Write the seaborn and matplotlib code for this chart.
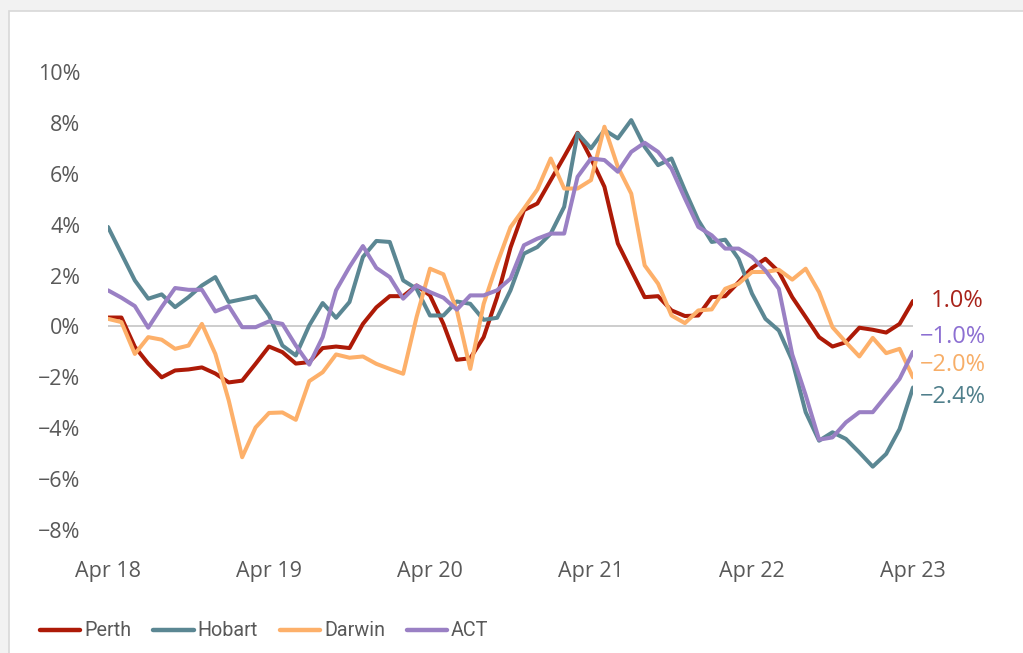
import pandas as pd
import matplotlib
matplotlib.use("Agg")
import matplotlib.pyplot as plt
import seaborn as sns
from matplotlib.patches import Rectangle

# monthly data, Apr 18 .. Apr 23 (annual change, %)
months = pd.date_range("2018-04-01", "2023-04-01", freq="MS")

perth = [0.35, 0.35, -0.8, -1.46, -2.0, -1.73, -1.69, -1.61, -1.85, -2.2, -2.13,
         -1.47, -0.79, -1.01, -1.46, -1.4, -0.85, -0.79, -0.85, 0.1, 0.75,
         1.19, 1.19, 1.61, 1.22, 0.1, -1.31, -1.25, -0.42, 1.15, 3.1,
         4.57, 4.83, 5.75, 6.67, 7.61, 6.6, 5.49, 3.26, 2.2, 1.15,
         1.19, 0.63, 0.41, 0.43, 1.15, 1.19, 1.74, 2.3, 2.66, 2.15,
         1.15, 0.37, -0.42, -0.79, -0.62, -0.05, -0.13, -0.24, 0.1, 1.0]
hobart = [3.91, 2.86, 1.81, 1.09, 1.26, 0.76, 1.15, 1.61, 1.94, 0.96, 1.07,
          1.18, 0.43, -0.75, -1.14, 0.04, 0.92, 0.34, 0.96, 2.73, 3.36,
          3.32, 1.81, 1.48, 0.43, 0.43, 0.98, 0.89, 0.26, 0.34, 1.42,
          2.86, 3.12, 3.65, 4.7, 7.59, 7.0, 7.72, 7.39, 8.11, 7.06,
          6.34, 6.6, 5.35, 4.17, 3.32, 3.41, 2.66, 1.29, 0.3, -0.16,
          -1.34, -3.37, -4.49, -4.16, -4.42, -4.95, -5.51, -5.01, -4.03, -2.4]
darwin = [0.3, 0.17, -1.08, -0.42, -0.52, -0.88, -0.75, 0.1, -1.08, -2.91, -5.14,
          -3.97, -3.4, -3.38, -3.67, -2.15, -1.8, -1.1, -1.23, -1.18, -1.47,
          -1.67, -1.86, 0.37, 2.27, 2.05, 0.63, -1.67, 0.89, 2.47, 3.9,
          4.63, 5.38, 6.6, 5.42, 5.42, 5.75, 7.85, 6.27, 5.22, 2.4,
          1.68, 0.43, 0.13, 0.63, 0.67, 1.48, 1.68, 2.14, 2.14, 2.23,
          1.84, 2.27, 1.35, -0.03, -0.62, -1.18, -0.45, -1.05, -0.88, -2.0]
act = [1.42, 1.13, 0.8, -0.05, 0.76, 1.51, 1.44, 1.44, 0.59, 0.8, -0.03,
       -0.03, 0.2, 0.1, -0.75, -1.5, -0.42, 1.42, 2.34, 3.16, 2.3,
       1.94, 1.09, 1.61, 1.35, 1.13, 0.66, 1.22, 1.22, 1.42, 1.88,
       3.19, 3.45, 3.65, 3.65, 5.88, 6.6, 6.54, 6.08, 6.86, 7.22,
       6.86, 6.2, 5.03, 3.91, 3.58, 3.06, 3.06, 2.73, 2.2, 1.48,
       -1.1, -2.7, -4.45, -4.36, -3.77, -3.37, -3.37, -2.72, -2.06, -1.0]

cities = ["Perth", "Hobart", "Darwin", "ACT"]
colors = ["#ad1a07", "#5b8793", "#fdb06a", "#9a80c4"]
label_colors = ["#a8231a", "#4f7f8b", "#f7ae68", "#8c6fd2"]
ticks_y = list(range(-8, 11, 2))
tick_labels_x = ["Apr 18", "Apr 19", "Apr 20", "Apr 21", "Apr 22", "Apr 23"]

df = pd.DataFrame({"t": list(range(len(months))) * 4,
                   "value": perth + hobart + darwin + act,
                   "city": [c for c in cities for _ in months]})

sns.set_style("white")
plt.rcParams["font.family"] = ["Open Sans", "DejaVu Sans"]

fig = plt.figure(figsize=(10.23, 6.53), dpi=100, facecolor="#f2f2f2")
# white card behind the chart
fig.patches.append(Rectangle((9 / 1023, -0.01), 1.0, 1 - 11 / 653 + 0.01,
                             transform=fig.transFigure, facecolor="white",
                             edgecolor="#d8d8d8", linewidth=1.2, zorder=-10))
ax = fig.add_axes([108 / 1023, 1 - 530 / 653, 805 / 1023, 458 / 653])
ax.set_facecolor("none")

ax.axhline(0, color="#c0c0c0", lw=1.1, zorder=1)
sns.lineplot(data=df, x="t", y="value", hue="city", hue_order=cities,
             palette=colors, linewidth=2.9, ax=ax, zorder=3)

ax.set_xlim(0, len(months) - 1)
ax.set_ylim(-8, 10)
ax.set_yticks(ticks_y)
ax.set_yticklabels([f"{v}%".replace("-", "−") for v in ticks_y])
ax.set_xticks(range(0, len(months), 12))
ax.set_xticklabels(tick_labels_x)
ax.tick_params(axis="y", length=0, pad=20, labelsize=15.5, labelcolor="#595959")
ax.tick_params(axis="x", length=0, pad=22, labelsize=15.5, labelcolor="#595959")
ax.set_xlabel("")
ax.set_ylabel("")
sns.despine(ax=ax, left=True, bottom=True)

# end-of-line labels, nudged apart
series = [perth, act, darwin, hobart]
lab_cols = [label_colors[0], label_colors[3], label_colors[2], label_colors[1]]
shifts = [0, 15, 12, -9]
xoffs = [18, 7, 7, 7]
for s, c, dy, dx in zip(series, lab_cols, shifts, xoffs):
    txt = f"{s[-1]:.1f}%".replace("-", "−")
    ax.annotate(txt, xy=(len(months) - 1, s[-1]), xytext=(dx, dy),
                textcoords="offset pixels", va="center", ha="left",
                fontsize=17, color=c, fontweight="medium", annotation_clip=False)

leg = ax.legend(loc="center left", bbox_to_anchor=(40 / 1023, 22 / 653),
                bbox_transform=fig.transFigure, ncol=4, frameon=False,
                handlelength=2.05, handletextpad=0.2, columnspacing=1.1,
                prop={"family": ["Roboto", "DejaVu Sans"], "size": 14.2},
                borderaxespad=0, borderpad=0)
for t in leg.get_texts():
    t.set_color("#595959")
for h in leg.get_lines():
    h.set_linewidth(3.2)
    h.set_solid_capstyle("round")

fig.savefig("out.png", dpi=100, facecolor=fig.get_facecolor())
